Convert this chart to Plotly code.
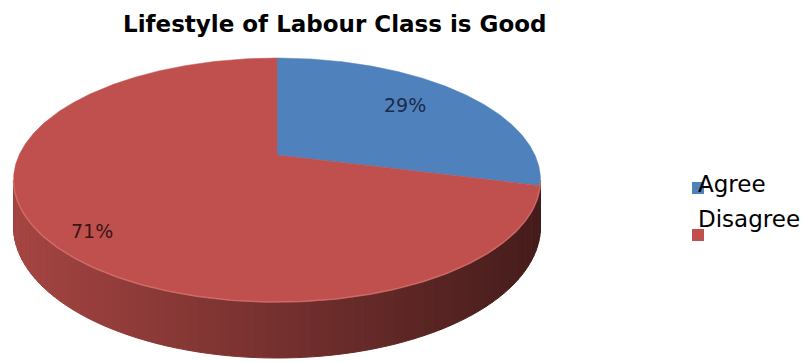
import numpy as np
import plotly.graph_objects as go

# ---- chart data ----
title = "Lifestyle of Labour Class is Good"
categories = ["Agree", "Disagree"]
percent = [29, 71]
slice_colors = ["#4F81BD", "#C0504D"]
label_colors = ["#1B2B4B", "#3A1513"]

# ---- 3D pie projection (tilted disc seen in perspective) ----
CX, CY = 277.0, 155.0      # screen position of the pie centre
RX, RY = 257.9, 116.9      # horizontal / vertical radius scale
K = 0.205                  # perspective strength
DEPTH = 44.5               # wall height
W, H = 811, 362


def project(s, t, drop=0.0):
    """s: sideways (right +), t: depth (far +) on the unit disc."""
    w = 1.0 + K * t
    return CX + RX * s / w, CY - RY * t / w + drop / w


def rim(a0, a1, n, drop=0.0):
    th = np.linspace(a0, a1, n)
    return project(np.sin(th), np.cos(th), drop)


def hex_rgb(h):
    h = h.lstrip("#")
    return tuple(int(h[i:i + 2], 16) for i in (0, 2, 4))


def shade(hexcol, f):
    r, g, b = hex_rgb(hexcol)
    return "rgb(%d,%d,%d)" % (r * f, g * f, b * f)


fractions = np.array(percent, dtype=float) / sum(percent)
bounds = np.concatenate([[0.0], np.cumsum(fractions)]) * 2 * np.pi

fig = go.Figure()

# side wall: only the front part of the rim is visible
vis0 = np.arccos(-K)
vis1 = 2 * np.pi - vis0
x_left, x_right = CX - RX / np.sqrt(1 - K * K), CX + RX / np.sqrt(1 - K * K)
for i, col in enumerate(slice_colors):
    a0, a1 = max(bounds[i], vis0), min(bounds[i + 1], vis1)
    if a1 <= a0:
        continue
    n_strips = max(1, int(np.ceil((a1 - a0) / np.radians(2.0))))
    edges = np.linspace(a0, a1, n_strips + 1)
    for e0, e1 in zip(edges[:-1], edges[1:]):
        tx, ty = rim(e0, e1, 4)
        bx, by = rim(e0, e1, 4, DEPTH)
        xs = np.concatenate([tx, bx[::-1], tx[:1]])
        ys = np.concatenate([ty, by[::-1], ty[:1]])
        xn = (np.mean(tx) - x_left) / (x_right - x_left)
        c = shade(col, 0.86 - 0.5 * xn)
        fig.add_trace(go.Scatter(x=xs, y=ys, mode="lines", fill="toself",
                                 fillcolor=c, line=dict(color=c, width=1),
                                 hoverinfo="skip", showlegend=False))

# top face slices
for i, col in enumerate(slice_colors):
    n = max(3, int(np.degrees(bounds[i + 1] - bounds[i]) * 2))
    ax, ay = rim(bounds[i], bounds[i + 1], n)
    xs = np.concatenate([[CX], ax, [CX]])
    ys = np.concatenate([[CY], ay, [CY]])
    fig.add_trace(go.Scatter(x=xs, y=ys, mode="lines", fill="toself",
                             fillcolor=col, line=dict(color=col, width=0.5),
                             name=categories[i], hoverinfo="skip",
                             showlegend=False))

# soft highlight along the front edge of the top face
hx, hy = rim(vis0, vis1, 200)
fig.add_trace(go.Scatter(x=hx, y=hy, mode="lines",
                         line=dict(color="rgba(218,118,112,0.7)", width=1.5),
                         hoverinfo="skip", showlegend=False))

# data labels
label_pos = [(405, 105), (92, 231)]
for p, (lx, ly), lc in zip(percent, label_pos, label_colors):
    fig.add_annotation(x=lx, y=ly, text="%d%%" % p, showarrow=False,
                       font=dict(family="DejaVu Sans", size=19, color=lc),
                       xanchor="center", yanchor="middle")

# legend
legend_text_y = [184, 219]
legend_mark_y = [188, 235]
for name, col, ty, my in zip(categories, slice_colors, legend_text_y, legend_mark_y):
    fig.add_trace(go.Scatter(x=[698], y=[my], mode="markers",
                             marker=dict(symbol="square", size=12, color=col),
                             hoverinfo="skip", showlegend=False))
    fig.add_annotation(x=696, y=ty, text=name, showarrow=False,
                       font=dict(family="DejaVu Sans", size=23, color="#000000"),
                       xanchor="left", yanchor="middle")

fig.add_annotation(x=335, y=24, text="<b>%s</b>" % title, showarrow=False,
                   font=dict(family="DejaVu Sans", size=23, color="#000000"),
                   xanchor="center", yanchor="middle")

fig.update_layout(
    width=W, height=H,
    margin=dict(l=0, r=0, t=0, b=0),
    paper_bgcolor="white", plot_bgcolor="white",
    xaxis=dict(range=[0, W], visible=False, fixedrange=True),
    yaxis=dict(range=[H, 0], visible=False, fixedrange=True),
    showlegend=False,
)

fig.write_html("out.html")
